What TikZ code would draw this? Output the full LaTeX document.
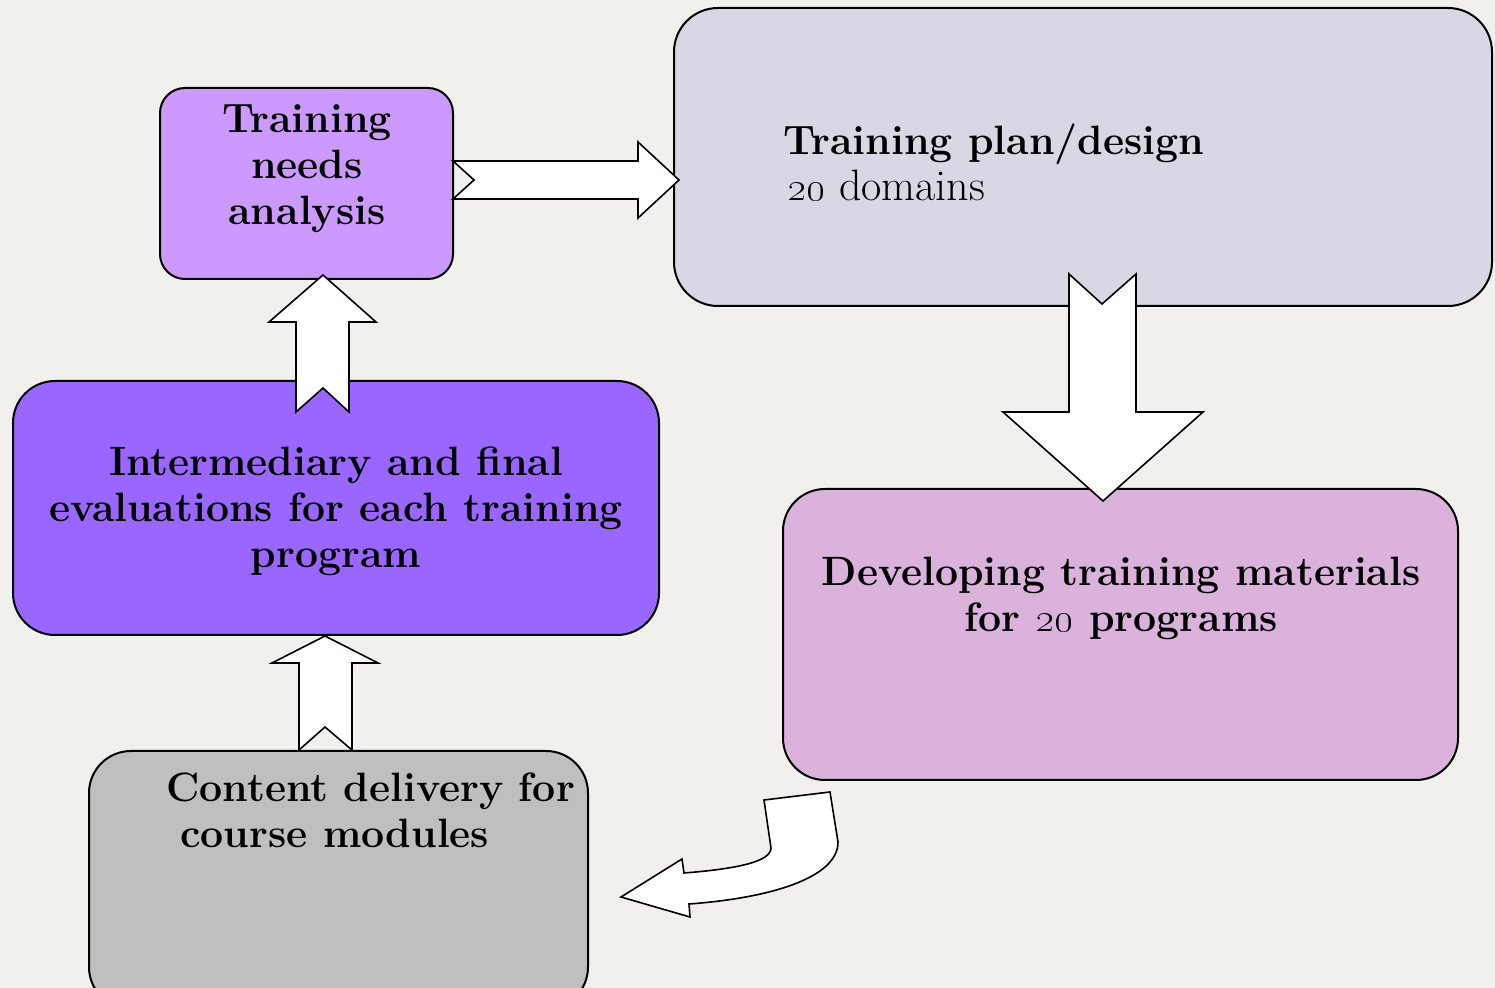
\documentclass[tikz,border=0pt]{standalone}
\definecolor{bg}{RGB}{242,240,236}
\definecolor{cA}{RGB}{204,153,255}
\definecolor{cB}{RGB}{216,216,228}
\definecolor{cC}{RGB}{218,178,220}
\definecolor{cD}{RGB}{191,191,191}
\definecolor{cE}{RGB}{153,102,255}
\tikzset{
  box/.style={draw=black, line width=1pt, inner sep=0pt, rectangle},
  blockarrow/.style={fill=white, draw=black, line width=0.8pt, line join=miter},
  lbl/.style={font=\fontsize{20.5}{23}\selectfont\bfseries, align=center, inner sep=0pt},
}
\begin{document}
\begin{tikzpicture}[x=0.5pt,y=-0.5pt]
\useasboundingbox (0,0) rectangle (1495,988);
\clip (0,0) rectangle (1495,988);
\fill[bg] (0,0) rectangle (1495,988);
% boxes
\node[box, fill=cA, rounded corners=12.5pt, minimum width=146.5pt, minimum height=95.5pt] (tna) at (306.5,183.5) {};
\node[box, fill=cB, rounded corners=22pt, minimum width=409pt, minimum height=149pt] (plan) at (1083,157) {};
\node[box, fill=cC, rounded corners=21pt, minimum width=337.5pt, minimum height=145.5pt] (dev) at (1120.5,634.5) {};
\node[box, fill=cD, rounded corners=21pt, minimum width=249.5pt, minimum height=129pt] (cont) at (338.5,880) {};
\node[box, fill=cE, rounded corners=21pt, minimum width=323pt, minimum height=127pt] (eval) at (336,508) {};
% texts
\node[lbl] (tnaT) at (307,169) {Training\\needs\\analysis};
\node[lbl, align=left, anchor=west, font=\fontsize{20.5}{23}\selectfont] (planT) at (783,162) {\textbf{Training plan/design}\\\hspace*{2pt}{\fontsize{22}{23}\selectfont\oldstylenums{20} domains}};
\node[lbl] (devT) at (1121,598) {Developing training materials\\for \oldstylenums{20} programs};
\node[lbl, align=left, anchor=west] (contT) at (166,810) {Content delivery for\\\hspace*{7pt}course modules};
\node[lbl] (evalT) at (336,511) {Intermediary and final\\evaluations for each training\\program};
% arrows
\draw[blockarrow] (453,161) -- (638,161) -- (638,142) -- (679,180) -- (638,218) -- (638,199) -- (453,199) -- (474,180) -- cycle;
\draw[blockarrow] (1069,274) -- (1102,304) -- (1136,274) -- (1136,412) -- (1203,412) -- (1103,501) -- (1003,412) -- (1069,412) -- cycle;
\draw[blockarrow] (296,412) -- (296,322) -- (269,322) -- (323,275) -- (376,322) -- (349,322) -- (349,412) -- (323,388) -- cycle;
\draw[blockarrow] (299,750) -- (299,663) -- (272,663) -- (325,636) -- (378,663) -- (352,663) -- (352,750) -- (325,727) -- cycle;
\draw[blockarrow] (764,800) -- (830,792) -- (838,842) .. controls (838,878) and (770,898) .. (689,904) -- (690,917) -- (621,897) -- (682,859) -- (684,873) .. controls (735,869) and (771,862) .. (771,848) -- cycle;
\end{tikzpicture}
\end{document}
